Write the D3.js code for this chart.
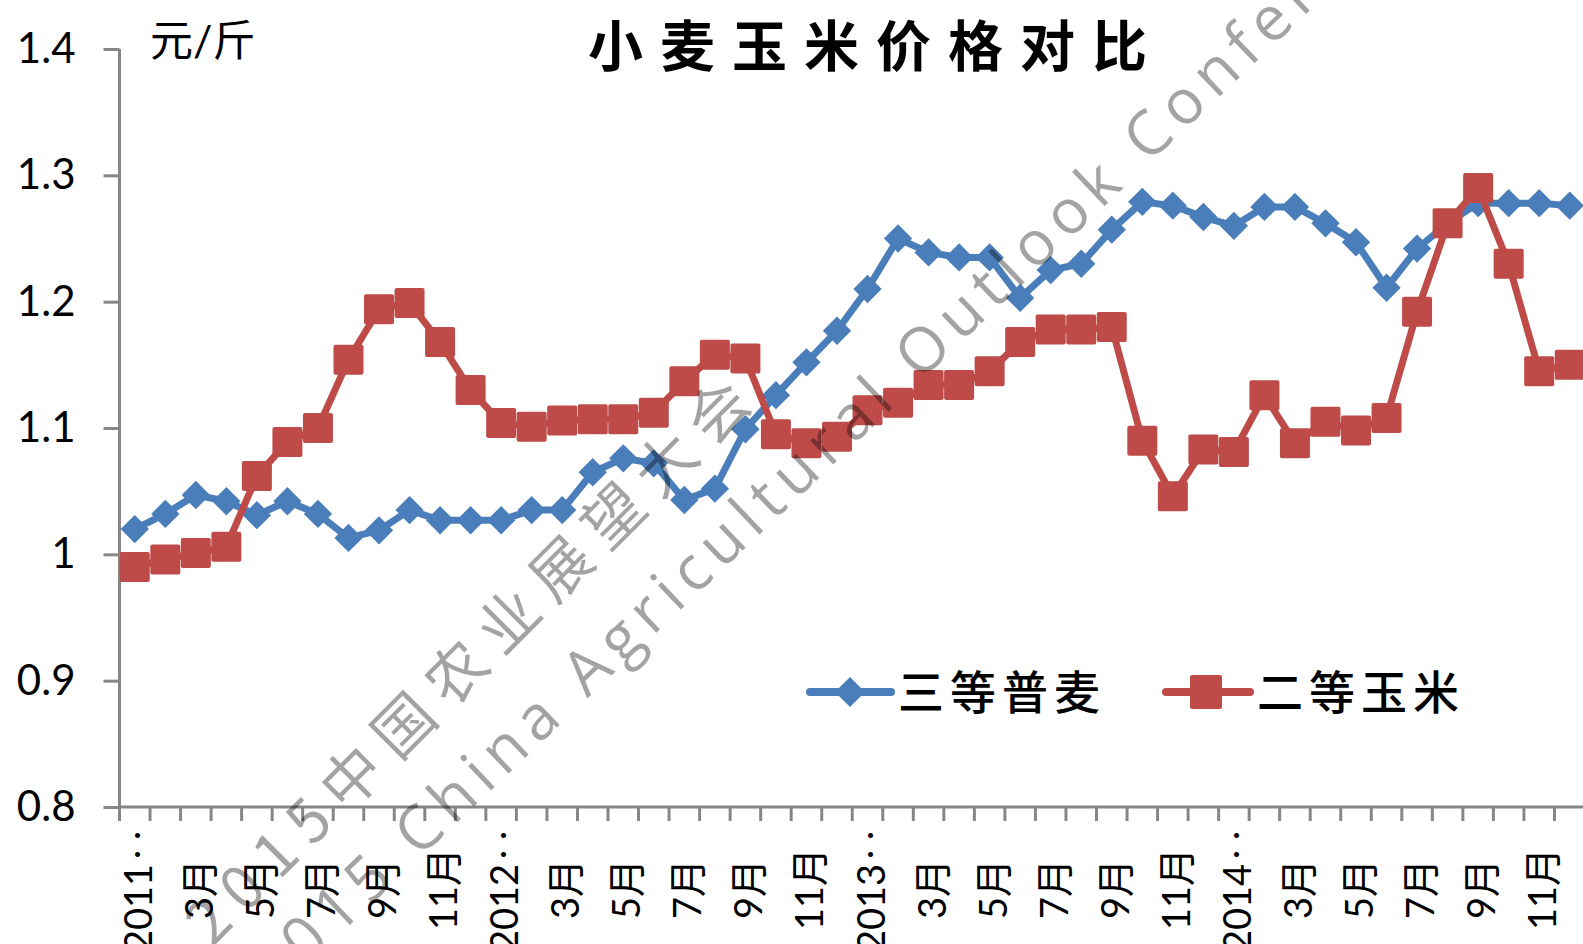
<!DOCTYPE html>
<html>
<head>
<meta charset="utf-8">
<script src="https://cdn.jsdelivr.net/npm/d3@7"></script>
<style>
  body { margin: 0; background: #fff; }
  svg { display: block; }
</style>
</head>
<body>
<svg id="chart" width="1583" height="944"></svg>
<script>
// 2011年1月 .. 2014年12月
const months = [];
for (let y = 2011; y <= 2014; y++) {
  for (let m = 1; m <= 12; m++) months.push(y + "年" + m + "月");
}
const tickLabels = [
  "2011‥", "", "3月", "", "5月", "", "7月", "", "9月", "", "11月", "",
  "2012‥", "", "3月", "", "5月", "", "7月", "", "9月", "", "11月", "",
  "2013‥", "", "3月", "", "5月", "", "7月", "", "9月", "", "11月", "",
  "2014‥", "", "3月", "", "5月", "", "7月", "", "9月", "", "11月", ""
];
const wheat = [
  1.020, 1.032, 1.047, 1.042, 1.031, 1.042, 1.032, 1.013, 1.019, 1.035, 1.027, 1.027,
  1.027, 1.035, 1.035, 1.065, 1.076, 1.072, 1.043, 1.052, 1.099, 1.126, 1.152, 1.177,
  1.210, 1.250, 1.239, 1.235, 1.235, 1.203, 1.225, 1.230, 1.257, 1.279, 1.276, 1.267,
  1.260, 1.275, 1.275, 1.262, 1.247, 1.211, 1.242, 1.262, 1.278, 1.278, 1.278, 1.276
];
const corn = [
  0.990, 0.996, 1.001, 1.006, 1.062, 1.089, 1.100, 1.154, 1.194, 1.199, 1.168, 1.130,
  1.104, 1.101, 1.106, 1.107, 1.107, 1.112, 1.137, 1.158, 1.155, 1.095, 1.088, 1.093,
  1.114, 1.120, 1.134, 1.134, 1.145, 1.168, 1.178, 1.178, 1.180, 1.090, 1.046, 1.083,
  1.081, 1.126, 1.088, 1.105, 1.098, 1.108, 1.192, 1.262, 1.290, 1.230, 1.145, 1.150
];
const yTicks = [0.8, 0.9, 1.0, 1.1, 1.2, 1.3, 1.4];
const seriesNames = ["三等普麦", "二等玉米"];

const blue = "#4a7ebb", red = "#be4b48", axisGray = "#868686";
const latin = "Lato, 'Noto Sans CJK SC', sans-serif";
const cjk = "'Noto Sans CJK SC', sans-serif";

let svg = d3.select("#chart");

let x = d3.scaleBand().domain(months).range([119.5, 1585]);
let y = d3.scaleLinear().domain([0.8, 1.4]).range([807, 49]);
let cx = d => x(d) + x.bandwidth() / 2;

// y axis
let yAxis = svg.append("g")
  .attr("transform", "translate(119.5,0)")
  .call(d3.axisLeft(y).tickValues(yTicks).tickSize(16).tickPadding(28)
    .tickFormat(d => String(+d.toFixed(1))));
yAxis.select(".domain").attr("stroke", axisGray).attr("stroke-width", 3)
  .attr("d", "M0," + y(1.4) + "V" + y(0.8));
yAxis.selectAll(".tick line").attr("stroke", axisGray).attr("stroke-width", 3);
yAxis.selectAll(".tick text").attr("fill", "#000")
  .style("font-family", latin).style("font-size", "42px");

// x axis
let xAxis = svg.append("g").attr("transform", "translate(0," + y(0.8) + ")");
xAxis.append("line")
  .attr("x1", 119.5).attr("x2", 1585)
  .attr("stroke", axisGray).attr("stroke-width", 3);
let bounds = months.map(d => x(d)).concat([x.range()[1]]);
xAxis.selectAll("line.tk").data(bounds).enter().append("line")
  .attr("class", "tk")
  .attr("x1", d => d).attr("x2", d => d)
  .attr("y1", 0).attr("y2", 14)
  .attr("stroke", axisGray).attr("stroke-width", 3);
xAxis.selectAll("text").data(months).enter().append("text")
  .attr("transform", (d, i) => "translate(" + (cx(d) + 2) + ",82) rotate(-90)")
  .attr("text-anchor", "middle")
  .attr("dominant-baseline", "central")
  .style("font-family", latin).style("font-size", "38px")
  .text((d, i) => tickLabels[i]);

// series
let line = d3.line().x((d, i) => cx(months[i])).y(d => y(d));

svg.append("path").datum(wheat)
  .attr("d", line).attr("fill", "none")
  .attr("stroke", blue).attr("stroke-width", 7).attr("stroke-linejoin", "round");
svg.append("g").selectAll("path").data(wheat).enter().append("path")
  .attr("d", d3.symbol(d3.symbolDiamond2, 16 * 16 * 2)())
  .attr("transform", (d, i) => "translate(" + cx(months[i]) + "," + y(d) + ")")
  .attr("fill", blue);

svg.append("path").datum(corn)
  .attr("d", line).attr("fill", "none")
  .attr("stroke", red).attr("stroke-width", 7).attr("stroke-linejoin", "round");
svg.append("g").selectAll("rect").data(corn).enter().append("rect")
  .attr("x", (d, i) => cx(months[i]) - 15)
  .attr("y", d => y(d) - 15)
  .attr("width", 30).attr("height", 30).attr("rx", 2)
  .attr("fill", red);

// title and unit
svg.append("text")
  .attr("x", 876).attr("y", 66)
  .attr("text-anchor", "middle")
  .style("font-family", cjk).style("font-size", "55px").style("font-weight", 700)
  .style("letter-spacing", "17px")
  .text("小麦玉米价格对比");
svg.append("text")
  .attr("x", 150).attr("y", 56)
  .style("font-family", latin).style("font-size", "43px")
  .text("元/斤");

// legend
let legend = svg.append("g").attr("transform", "translate(0,692)");
legend.append("line").attr("x1", 810).attr("x2", 891)
  .attr("stroke", blue).attr("stroke-width", 8).attr("stroke-linecap", "round");
legend.append("path")
  .attr("d", d3.symbol(d3.symbolDiamond2, 17 * 17 * 2)())
  .attr("transform", "translate(850,0)").attr("fill", blue);
legend.append("text").attr("x", 898).attr("y", 17)
  .style("font-family", cjk).style("font-size", "46px").style("font-weight", 500)
  .style("letter-spacing", "6px")
  .text(seriesNames[0]);
legend.append("line").attr("x1", 1166).attr("x2", 1250)
  .attr("stroke", red).attr("stroke-width", 8).attr("stroke-linecap", "round");
legend.append("rect").attr("x", 1190).attr("y", -17).attr("width", 32).attr("height", 34)
  .attr("rx", 2).attr("fill", red);
legend.append("text").attr("x", 1257).attr("y", 17)
  .style("font-family", cjk).style("font-size", "46px").style("font-weight", 500)
  .style("letter-spacing", "6px")
  .text(seriesNames[1]);

// watermark
let wm = svg.append("g").style("pointer-events", "none");
wm.append("text")
  .attr("transform", "translate(212,948) rotate(-45)")
  .style("font-family", cjk).style("font-size", "60px").style("letter-spacing", "14px")
  .attr("fill", "#000").attr("fill-opacity", 0.36)
  .text("2015中国农业展望大会");
wm.append("text")
  .attr("transform", "translate(274,997) rotate(-43.6)")
  .style("font-family", "'Open Sans', sans-serif").style("font-size", "62px")
  .style("letter-spacing", "8.5px")
  .attr("fill", "#000").attr("fill-opacity", 0.36)
  .text("2015 China Agricultural Outlook Conference");
</script>
</body>
</html>
